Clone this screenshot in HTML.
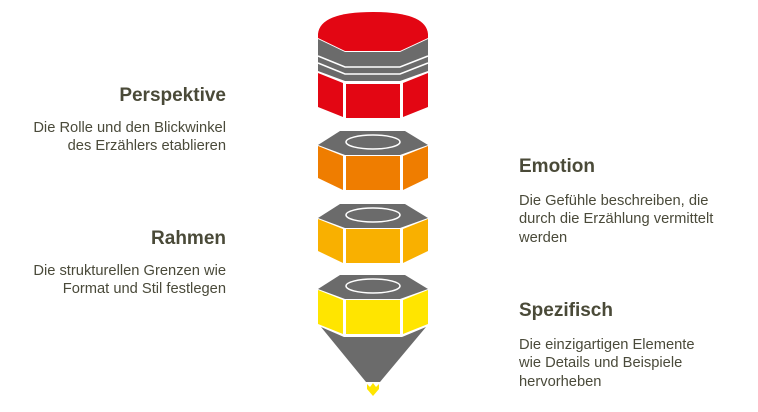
<!DOCTYPE html>
<html><head><meta charset="utf-8"><style>
html,body{margin:0;padding:0;background:#fff;}
svg{display:block;}
text{font-family:"Liberation Sans",sans-serif;}
.t{font-size:19px;font-weight:bold;fill:#4a4a38;}
.b{font-size:14.7px;fill:#4a4a3a;}
</style></head><body>
<svg width="758" height="412" viewBox="0 0 758 412" xmlns="http://www.w3.org/2000/svg">
<!-- red cap -->
<path d="M318,38 L318,34 Q320,12 373,12 Q426,12 428,34 L428,38 L400,51 L345,51 Z" fill="#e30613"/>
<polygon points="318,39 345,52 400,52 428,39 428,71 400,81 345,81 318,71" fill="#6b6b6b"/>
<polyline points="318,56 345,67 400,67 428,56" fill="none" stroke="#fff" stroke-width="1.6"/>
<polyline points="318,63 345,74 400,74 428,63" fill="none" stroke="#fff" stroke-width="1.6"/>
<polygon points="318,73 343,83 343,117 318,107" fill="#e30613"/>
<rect x="346" y="84" width="54" height="34" fill="#e30613"/>
<polygon points="428,73 403,83 403,117 428,107" fill="#e30613"/>
<!-- nuts -->
<g>
<polygon points="340,131 405,131 428,145 400,155 345,155 318,145" fill="#6b6b6b"/>
<ellipse cx="373" cy="142" rx="27" ry="7" fill="none" stroke="#fff" stroke-width="1.5"/>
<polygon points="318,146 343,156 343,190 318,178" fill="#ef7d00"/>
<rect x="346" y="156" width="54" height="34" fill="#ef7d00"/>
<polygon points="428,146 403,156 403,190 428,178" fill="#ef7d00"/>
</g>
<g transform="translate(0,73)">
<polygon points="340,131 405,131 428,145 400,155 345,155 318,145" fill="#6b6b6b"/>
<ellipse cx="373" cy="142" rx="27" ry="7" fill="none" stroke="#fff" stroke-width="1.5"/>
<polygon points="318,146 343,156 343,190 318,178" fill="#f9b000"/>
<rect x="346" y="156" width="54" height="34" fill="#f9b000"/>
<polygon points="428,146 403,156 403,190 428,178" fill="#f9b000"/>
</g>
<polygon points="321,327 344,337 402,337 426,327 380,382 366,382" fill="#6b6b6b"/>
<g transform="translate(0,144)">
<polygon points="340,131 405,131 428,145 400,155 345,155 318,145" fill="#6b6b6b"/>
<ellipse cx="373" cy="142" rx="27" ry="7" fill="none" stroke="#fff" stroke-width="1.5"/>
<polygon points="318,146 343,156 343,190 318,180" fill="#ffe500"/>
<rect x="346" y="156" width="54" height="34" fill="#ffe500"/>
<polygon points="428,146 403,156 403,190 428,180" fill="#ffe500"/>
</g>
<polygon points="367,384 370,387 373,383 376,387 379,384 379,389 373,396 367,389" fill="#ffe500"/>
<!-- texts -->
<text class="t" x="226" y="101" text-anchor="end">Perspektive</text>
<text class="b" x="226" y="132" text-anchor="end">Die Rolle und den Blickwinkel</text>
<text class="b" x="226" y="150" text-anchor="end">des Erzählers etablieren</text>
<text class="t" x="226" y="244" text-anchor="end">Rahmen</text>
<text class="b" x="226" y="275" text-anchor="end">Die strukturellen Grenzen wie</text>
<text class="b" x="226" y="293" text-anchor="end">Format und Stil festlegen</text>
<text class="t" x="519" y="172">Emotion</text>
<text class="b" x="519" y="205">Die Gefühle beschreiben, die</text>
<text class="b" x="519" y="223">durch die Erzählung vermittelt</text>
<text class="b" x="519" y="242">werden</text>
<text class="t" x="519" y="316">Spezifisch</text>
<text class="b" x="519" y="349">Die einzigartigen Elemente</text>
<text class="b" x="519" y="367">wie Details und Beispiele</text>
<text class="b" x="519" y="386">hervorheben</text>
</svg>
</body></html>
